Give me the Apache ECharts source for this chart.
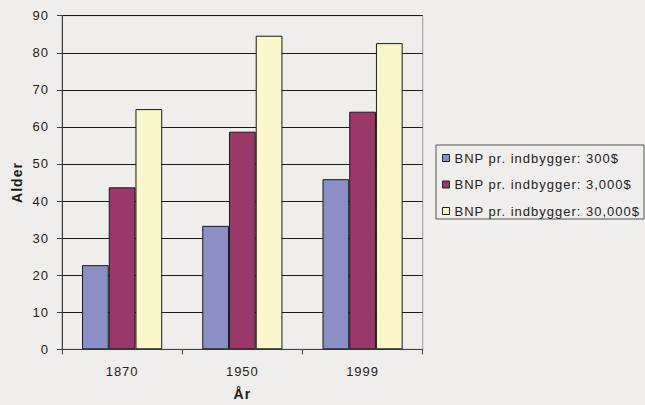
<!DOCTYPE html>
<html>
<head>
<meta charset="utf-8">
<script src="https://cdn.jsdelivr.net/npm/echarts@6/dist/echarts.min.js"></script>
<style>
html,body{margin:0;padding:0;background:#efeeec;}
#chart{width:645px;height:405px;}
#chart text{letter-spacing:1px;}
</style>
</head>
<body>
<div id="chart"></div>
<script>
const categories = ['1870', '1950', '1999'];
const seriesNames = ['BNP pr. indbygger: 300$', 'BNP pr. indbygger: 3,000$', 'BNP pr. indbygger: 30,000$'];
const values300 = [22.7, 33.3, 45.9];
const values3000 = [43.7, 58.7, 64.1];
const values30000 = [64.8, 84.6, 82.6];
const yTicks = { min: 0, max: 90, interval: 10 };
const colors = ['#8b8fc6', '#993869', '#f9f7cb'];

const chart = echarts.init(document.getElementById('chart'), null, { renderer: 'svg' });
const font = 'Liberation Sans, Arial, sans-serif';
const seriesData = [values300, values3000, values30000];

chart.setOption({
  backgroundColor: '#efeeec',
  animation: false,
  textStyle: { fontFamily: font },
  grid: {
    left: 62, right: 222.3, top: 15.7, bottom: 55.7,
    outerBoundsMode: 'none',
    containLabel: false,
    show: true, borderColor: '#9a9a9a', borderWidth: 1, backgroundColor: 'transparent'
  },
  xAxis: {
    type: 'category',
    data: categories,
    name: 'År',
    nameLocation: 'middle',
    nameGap: 38,
    nameTextStyle: { fontSize: 14, fontWeight: 'bold', color: '#1a1a1a', fontFamily: font },
    axisLine: { show: true, lineStyle: { color: '#404040', width: 1 } },
    axisTick: { show: true, length: 5, inside: false, lineStyle: { color: '#404040' } },
    axisLabel: { margin: 16, fontSize: 13, color: '#222', fontFamily: font },
    splitLine: { show: false }
  },
  yAxis: {
    type: 'value',
    min: yTicks.min, max: yTicks.max, interval: yTicks.interval,
    name: 'Alder',
    nameLocation: 'middle',
    nameGap: 35,
    nameRotate: 90,
    nameTextStyle: { fontSize: 14, fontWeight: 'bold', color: '#1a1a1a', fontFamily: font },
    axisLine: { show: true, lineStyle: { color: '#404040', width: 1 } },
    axisTick: { show: true, length: 5, inside: false, lineStyle: { color: '#404040' } },
    axisLabel: { margin: 13, fontSize: 13, color: '#222', fontFamily: font },
    splitLine: { show: true, lineStyle: { color: '#1a1a1a', width: 1 } }
  },
  legend: {
    orient: 'vertical',
    left: 442, top: 150,
    padding: 0,
    itemWidth: 7, itemHeight: 7,
    itemGap: 10.5,
    icon: 'rect',
    itemStyle: { borderColor: '#222', borderWidth: 1 },
    textStyle: { fontSize: 13, color: '#222', fontFamily: font, lineHeight: 16 },
    data: seriesNames
  },
  graphic: [{
    type: 'rect',
    left: 435.5, top: 144.5,
    shape: { width: 208, height: 74 },
    style: { fill: 'transparent', stroke: '#555', lineWidth: 1 },
    silent: true, z: 0
  }],
  series: seriesNames.map((n, i) => ({
    name: n,
    type: 'bar',
    data: seriesData[i],
    barGap: '0%',
    barCategoryGap: '33.3%',
    itemStyle: { color: colors[i], borderColor: '#1a1a1a', borderWidth: 1 }
  }))
});
</script>
</body>
</html>
